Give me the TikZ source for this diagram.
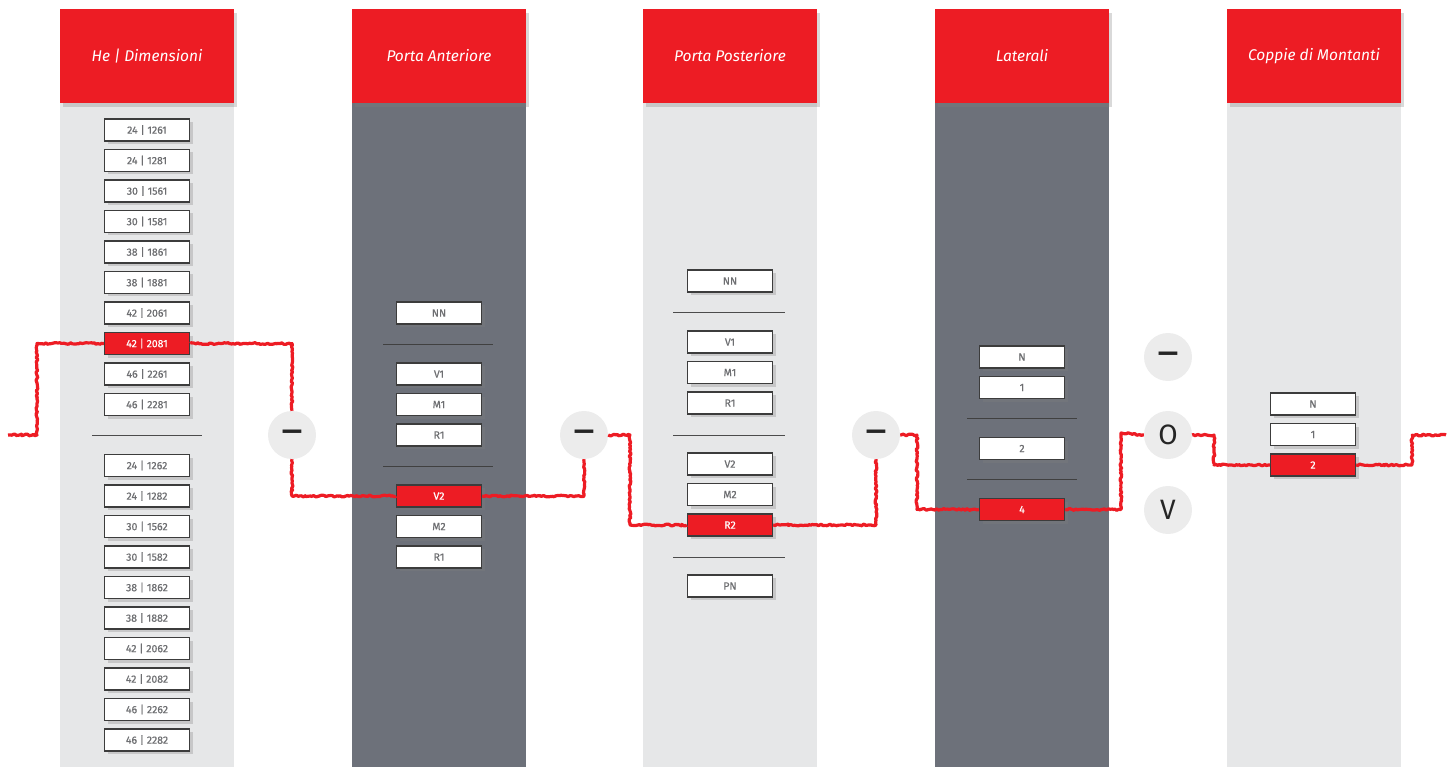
\documentclass[tikz,border=0pt]{standalone}
\usepackage{fontspec}
\setmainfont{Fira Sans}
\newfontfamily\optfont{Fira Sans}[FakeBold=0.6]
\usetikzlibrary{positioning,shadows,decorations.pathmorphing}
\definecolor{cfgred}{HTML}{ED1C24}
\definecolor{coldark}{HTML}{6D717A}
\definecolor{collight}{HTML}{E6E7E8}
\definecolor{optgray}{HTML}{6D6E71}
\definecolor{optframe}{HTML}{3C3C3C}
\definecolor{circgray}{HTML}{ECECEC}
\newcommand{\nochoice}{\scalebox{1.4}[1]{\bfseries –}}
\tikzset{
  header/.style={fill=cfgred, minimum width=174, minimum height=94, inner sep=0,
    text=white, font=\fontsize{15.5}{17}\selectfont\itshape,
    drop shadow={shadow xshift=3pt, shadow yshift=-4pt, opacity=0.3}},
  optbox/.style={draw=optframe, line width=1.2pt, fill=white, minimum width=85,
    minimum height=22, inner sep=0, text=optgray, font=\optfont\fontsize{10.5}{12}\selectfont,
    drop shadow={shadow xshift=3pt, shadow yshift=-3pt, opacity=0.3}},
  selbox/.style={optbox, fill=cfgred, text=white},
  choice/.style={circle, fill=circgray, minimum size=48, inner sep=0,
    font=\fontsize{28}{30}\selectfont, text=black!85},
  sep/.style={line width=1pt, draw=black!70},
  redpath/.style={draw=cfgred, line width=3.2pt, line join=round,
    decorate, decoration={random steps, segment length=1.8pt, amplitude=0.9pt}}
}
\begin{document}
\begin{tikzpicture}[x=1pt, y=-1pt, node distance=30.5]
      \useasboundingbox (0,0) rectangle (1456,767);
      % columns
      \fill[collight] (60,60) rectangle (234,767);
      \fill[coldark]  (352,60) rectangle (526,767);
      \fill[collight] (643,60) rectangle (817,767);
      \fill[coldark]  (935,60) rectangle (1109,767);
      \fill[collight] (1227,60) rectangle (1401,767);
      \node[header] (h1) at (147,56)  {He | Dimensioni};
      \node[header] (h2) at (439,56)  {Porta Anteriore};
      \node[header] (h3) at (730,56)  {Porta Posteriore};
      \node[header] (h4) at (1022,56) {Laterali};
      \node[header] (h5) at (1314,56) {Coppie di Montanti};
      % He | Dimensioni
      \node[optbox] (a1) at (147,130) {24 | 1261};
      \node[optbox, below of=a1] (a2) {24 | 1281};
      \node[optbox, below of=a2] (a3) {30 | 1561};
      \node[optbox, below of=a3] (a4) {30 | 1581};
      \node[optbox, below of=a4] (a5) {38 | 1861};
      \node[optbox, below of=a5] (a6) {38 | 1881};
      \node[optbox, below of=a6] (a7) {42 | 2061};
      \node[selbox, below of=a7] (a8) {42 | 2081};
      \node[optbox, below of=a8] (a9) {46 | 2261};
      \node[optbox, below of=a9] (a10) {46 | 2281};
      \node[optbox, below of=a10, node distance=61] (a11) {24 | 1262};
      \node[optbox, below of=a11] (a12) {24 | 1282};
      \node[optbox, below of=a12] (a13) {30 | 1562};
      \node[optbox, below of=a13] (a14) {30 | 1582};
      \node[optbox, below of=a14] (a15) {38 | 1862};
      \node[optbox, below of=a15] (a16) {38 | 1882};
      \node[optbox, below of=a16] (a17) {42 | 2062};
      \node[optbox, below of=a17] (a18) {42 | 2082};
      \node[optbox, below of=a18] (a19) {46 | 2262};
      \node[optbox, below of=a19] (a20) {46 | 2282};
      \draw[sep] (92,435.5) -- (202,435.5);
      % Porta Anteriore
      \node[optbox] (b1) at (439,313) {NN};
      \node[optbox, below of=b1, node distance=61] (b2) {V1};
      \node[optbox, below of=b2] (b3) {M1};
      \node[optbox, below of=b3] (b4) {R1};
      \node[selbox, below of=b4, node distance=61] (b5) {V2};
      \node[optbox, below of=b5] (b6) {M2};
      \node[optbox, below of=b6] (b7) {R1};
      \draw[sep, draw=black!75] (383,344) -- (493,344);
      \draw[sep, draw=black!75] (383,466) -- (493,466);
      % Porta Posteriore
      \node[optbox] (c1) at (730,281) {NN};
      \node[optbox, below of=c1, node distance=61] (c2) {V1};
      \node[optbox, below of=c2] (c3) {M1};
      \node[optbox, below of=c3] (c4) {R1};
      \node[optbox, below of=c4, node distance=61] (c5) {V2};
      \node[optbox, below of=c5] (c6) {M2};
      \node[selbox, below of=c6] (c7) {R2};
      \node[optbox, below of=c7, node distance=61] (c8) {PN};
      \draw[sep] (673,312) -- (785,312);
      \draw[sep] (673,435) -- (785,435);
      \draw[sep] (673,557) -- (785,557);
      % Laterali
      \node[optbox] (d1) at (1022,357) {N};
      \node[optbox, below of=d1] (d2) {1};
      \node[optbox, below of=d2, node distance=61] (d3) {2};
      \node[selbox, below of=d3, node distance=61] (d4) {4};
      \draw[sep, draw=black!75] (967,418) -- (1077,418);
      \draw[sep, draw=black!75] (967,479) -- (1077,479);
      % Coppie di Montanti
      \node[optbox] (e1) at (1313,404) {N};
      \node[optbox, below of=e1] (e2) {1};
      \node[selbox, below of=e2] (e3) {2};
      % choices
      \node[choice] (m1) at (292,435) {\nochoice};
      \node[choice] (m2) at (584,435) {\nochoice};
      \node[choice] (m3) at (876,435) {\nochoice};
      \node[choice] (m4) at (1168,357) {\nochoice};
      \node[choice] (o)  at (1168,435) {O};
      \node[choice] (v)  at (1168,510) {V};
      % selection path
      \coordinate (in) at (8,435);
      \coordinate (k1) at (37,435);
      \coordinate (k2) at (630,435);
      \coordinate (k3) at (917,435);
      \coordinate (k4) at (1121,433);
      \coordinate (k5) at (1214,435);
      \coordinate (k6) at (1412,435);
      \coordinate (out) at (1446,435);
      \draw[redpath] (in) -- (k1) |- (a8.west);
      \draw[redpath] (a8.east) -| (m1.north);
      \draw[redpath] (m1.south) |- (b5.west);
      \draw[redpath] (b5.east) -| (m2.south);
      \draw[redpath] (m2.east) -- (k2) |- (c7.west);
      \draw[redpath] (c7.east) -| (m3.south);
      \draw[redpath] (m3.east) -- (k3) |- (d4.west);
      \draw[redpath] (d4.east) -| (k4) -- (o.west);
      \draw[redpath] (o.east) -- (k5) |- (e3.west);
      \draw[redpath] (e3.east) -| (k6) -- (out);
     \end{tikzpicture}
\end{document}
